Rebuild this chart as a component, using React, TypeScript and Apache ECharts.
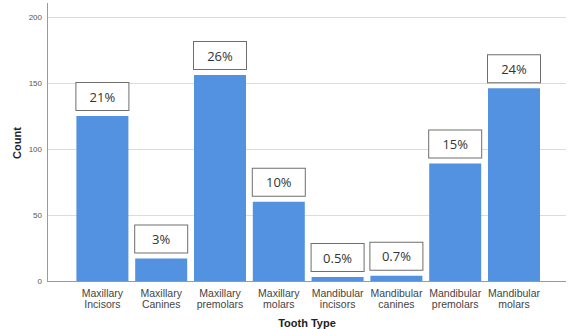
import React, { useEffect, useRef } from "react";
import * as echarts from "echarts";

const categories = [
  "Maxillary\nIncisors",
  "Maxillary\nCanines",
  "Maxillary\npremolars",
  "Maxillary\nmolars",
  "Mandibular\nincisors",
  "Mandibular\ncanines",
  "Mandibular\npremolars",
  "Mandibular\nmolars",
];
const counts = [125, 17, 156, 60, 3, 4, 89, 146];
const percentLabels = ["21%", "3%", "26%", "10%", "0.5%", "0.7%", "15%", "24%"];
const yTicks = [0, 50, 100, 150, 200];

export default function App() {
  const ref = useRef<HTMLDivElement>(null);
  useEffect(() => {
    if (!ref.current) return;
    const chart = echarts.init(ref.current, undefined, { renderer: "svg" });
    const font = "Liberation Sans, Arial, sans-serif";
    chart.setOption({
      animation: false,
      backgroundColor: "#ffffff",
      grid: [
        { left: 47, right: 2, top: 17, bottom: 48 },
        { left: 73, right: 24.6, top: 17, bottom: 48 },
      ],
      xAxis: [
        { gridIndex: 0, type: "value", min: 0, max: 1, show: false },
        {
          gridIndex: 1,
          type: "category",
          data: categories,
          axisLine: { show: false },
          axisTick: { show: false },
          axisLabel: {
            interval: 0,
            margin: 6,
            color: "#444",
            fontSize: 10.5,
            lineHeight: 11,
            fontFamily: font,
          },
        },
      ],
      yAxis: [
        {
          gridIndex: 0,
          type: "value",
          min: yTicks[0],
          max: yTicks[yTicks.length - 1],
          interval: 50,
          axisLine: { show: false },
          axisTick: { show: false },
          splitLine: { show: true, lineStyle: { color: "#dcdcdc", width: 1 } },
          axisLabel: { color: "#555", fontSize: 8, margin: 5, fontFamily: font },
        },
        {
          gridIndex: 1,
          type: "value",
          min: yTicks[0],
          max: yTicks[yTicks.length - 1],
          interval: 50,
          show: false,
          splitLine: { show: false },
        },
      ],
      series: [
        {
          type: "bar",
          xAxisIndex: 1,
          yAxisIndex: 1,
          data: counts,
          barWidth: 52,
          itemStyle: { color: "#5392E1" },
          label: {
            show: true,
            position: "top",
            distance: 6,
            formatter: (p: any) => percentLabels[p.dataIndex],
            backgroundColor: "#ffffff",
            borderColor: "#6e6e6e",
            borderWidth: 1,
            width: 52,
            height: 27,
            lineHeight: 27,
            padding: 0,
            align: "center",
            color: "#333",
            fontSize: 13,
            fontFamily: "Open Sans, Liberation Sans, sans-serif",
          },
        },
      ],
      graphic: [
        {
          type: "line",
          shape: { x1: 47.5, y1: 3, x2: 47.5, y2: 281 },
          style: { stroke: "#9a9a9a", lineWidth: 1 },
          z: 10,
        },
        {
          type: "line",
          shape: { x1: 47, y1: 281.5, x2: 566, y2: 281.5 },
          style: { stroke: "#9a9a9a", lineWidth: 1 },
          z: 10,
        },
        {
          type: "text",
          x: 17,
          y: 143,
          rotation: Math.PI / 2,
          style: {
            text: "Count",
            fill: "#222",
            font: "bold 11px Liberation Sans, Arial, sans-serif",
            textAlign: "center",
            textVerticalAlign: "middle",
          },
        },
        {
          type: "text",
          x: 307,
          y: 323,
          style: {
            text: "Tooth Type",
            fill: "#222",
            font: "bold 11px Liberation Sans, Arial, sans-serif",
            textAlign: "center",
            textVerticalAlign: "middle",
          },
        },
      ],
    });
    return () => chart.dispose();
  }, []);
  return (
    <div
      ref={ref}
      style={{ position: "fixed", left: 0, top: 0, width: 568, height: 329 }}
    />
  );
}
